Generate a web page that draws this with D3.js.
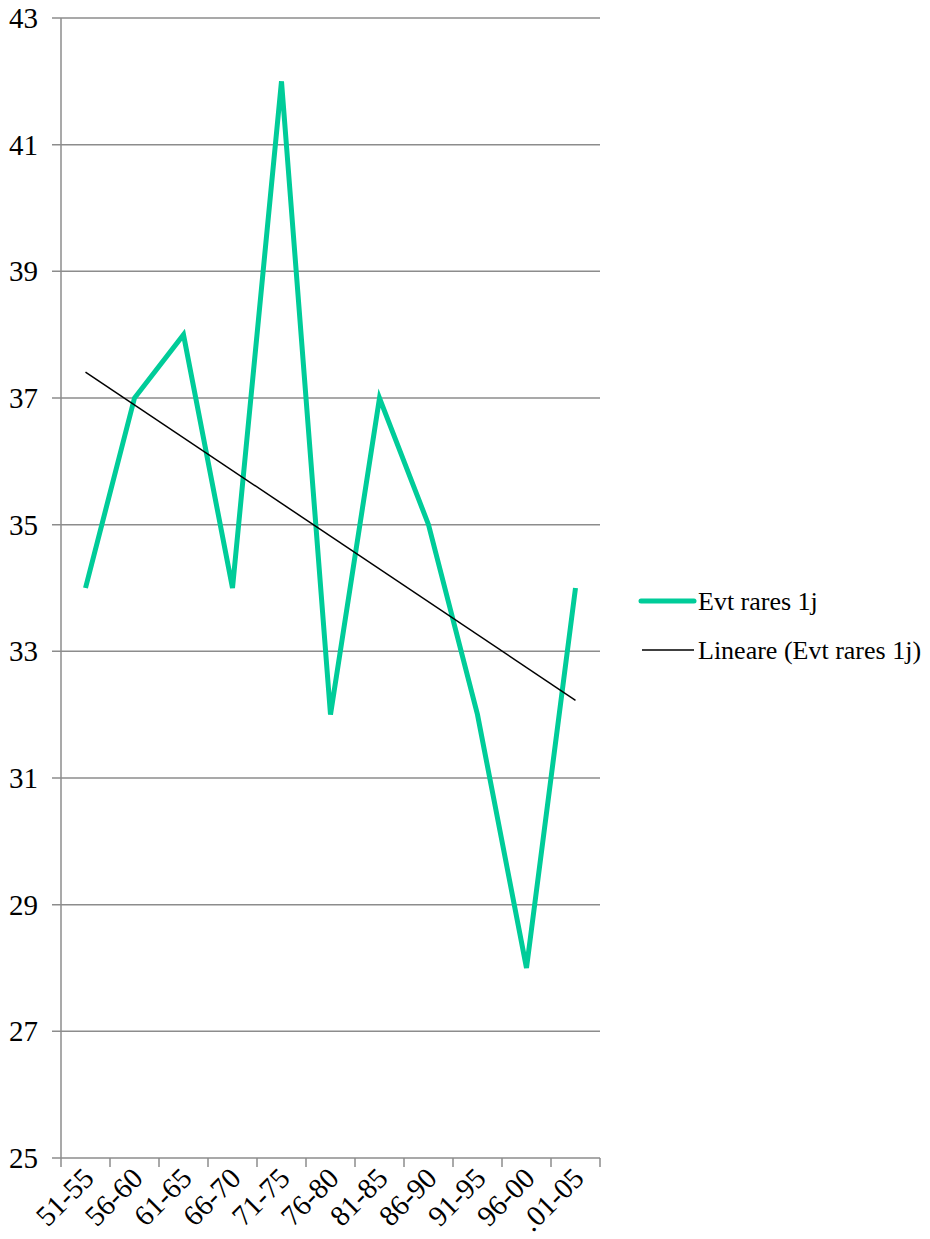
<!DOCTYPE html>
<html>
<head>
<meta charset="utf-8">
<script src="https://cdnjs.cloudflare.com/ajax/libs/d3/7.8.5/d3.min.js"></script>
</head>
<body style="margin:0">
<script>
var categories = ['51-55','56-60','61-65','66-70','71-75','76-80','81-85','86-90','91-95','96-00','.01-05'];
var values = [34, 37, 38, 34, 42, 32, 37, 35, 32, 28, 34];
var yTicks = [25, 27, 29, 31, 33, 35, 37, 39, 41, 43];
var seriesName = 'Evt rares 1j';
var trendName = 'Lineare (Evt rares 1j)';

var width = 930, height = 1239;
var plotLeft = 61, plotRight = 600, plotTop = 18, plotBottom = 1158;
var labelSize = '29px';
var legendSize = '26px';
var serifFace = '"Liberation Serif", "Times New Roman", Tinos, serif';

var svg = d3.select('body').append('svg')
	.attr('width', width)
	.attr('height', height)
	.attr('font-family', serifFace)
	.style('font-family', serifFace, 'important');

var x = d3.scaleBand().domain(categories).range([plotLeft, plotRight]);
var y = d3.scaleLinear().domain([25, 43]).range([plotBottom, plotTop]);

function label(sel, size) {
	sel.attr('font-family', serifFace)
		.style('font-family', serifFace, 'important')
		.style('font-size', size || labelSize)
		.attr('fill', '#000');
}

// gridlines
svg.append('g')
	.selectAll('line')
	.data(yTicks)
	.enter()
	.append('line')
	.attr('x1', plotLeft - 9)
	.attr('x2', plotRight)
	.attr('y1', d => y(d))
	.attr('y2', d => y(d))
	.attr('stroke', '#8c8c8c')
	.attr('stroke-width', 1.5);

// y axis line
svg.append('line')
	.attr('x1', plotLeft).attr('x2', plotLeft)
	.attr('y1', plotTop).attr('y2', plotBottom)
	.attr('stroke', '#8c8c8c')
	.attr('stroke-width', 1.5);

// y labels
svg.append('g')
	.selectAll('text')
	.data(yTicks)
	.enter()
	.append('text')
	.attr('x', 38)
	.attr('y', d => y(d) + 10)
	.attr('text-anchor', 'end')
	.call(label)
	.text(d => d);

// x ticks at band boundaries
var bounds = categories.map(c => x(c)).concat([plotRight]);
svg.append('g')
	.selectAll('line')
	.data(bounds)
	.enter()
	.append('line')
	.attr('x1', d => d).attr('x2', d => d)
	.attr('y1', plotBottom).attr('y2', plotBottom + 9)
	.attr('stroke', '#8c8c8c')
	.attr('stroke-width', 1.5);

// x labels
svg.append('g')
	.selectAll('text')
	.data(categories)
	.enter()
	.append('text')
	.attr('transform', d => 'translate(' + (x(d) + x.bandwidth() / 2 + 10) + ',' + (plotBottom + 22) + ') rotate(-45)')
	.attr('text-anchor', 'end')
	.call(label)
	.text(d => d);

var cx = d => x(d) + x.bandwidth() / 2;

// data line
var line = d3.line()
	.x((d, i) => cx(categories[i]))
	.y(d => y(d));

svg.append('path')
	.datum(values)
	.attr('d', line)
	.attr('fill', 'none')
	.attr('stroke', '#00cc99')
	.attr('stroke-width', 5)
	.attr('stroke-linejoin', 'miter');

// linear trend (least squares)
var n = values.length;
var mx = d3.mean(values, (d, i) => i);
var my = d3.mean(values);
var sxy = d3.sum(values, (d, i) => (i - mx) * (d - my));
var sxx = d3.sum(values, (d, i) => (i - mx) * (i - mx));
var slope = sxy / sxx;
var icpt = my - slope * mx;

svg.append('line')
	.attr('x1', cx(categories[0]))
	.attr('y1', y(icpt))
	.attr('x2', cx(categories[n - 1]))
	.attr('y2', y(icpt + slope * (n - 1)))
	.attr('stroke', '#000')
	.attr('stroke-width', 1.5);

// legend
var legend = svg.append('g');
legend.append('line')
	.attr('x1', 641).attr('x2', 694)
	.attr('y1', 601).attr('y2', 601)
	.attr('stroke', '#00cc99')
	.attr('stroke-width', 5)
	.attr('stroke-linecap', 'round');
legend.append('text')
	.attr('x', 698).attr('y', 610)
	.call(label, legendSize)
	.text(seriesName);
legend.append('line')
	.attr('x1', 642).attr('x2', 694)
	.attr('y1', 650).attr('y2', 650)
	.attr('stroke', '#000')
	.attr('stroke-width', 1.5);
legend.append('text')
	.attr('x', 698).attr('y', 659)
	.call(label, legendSize)
	.text(trendName);
</script>
</body>
</html>
